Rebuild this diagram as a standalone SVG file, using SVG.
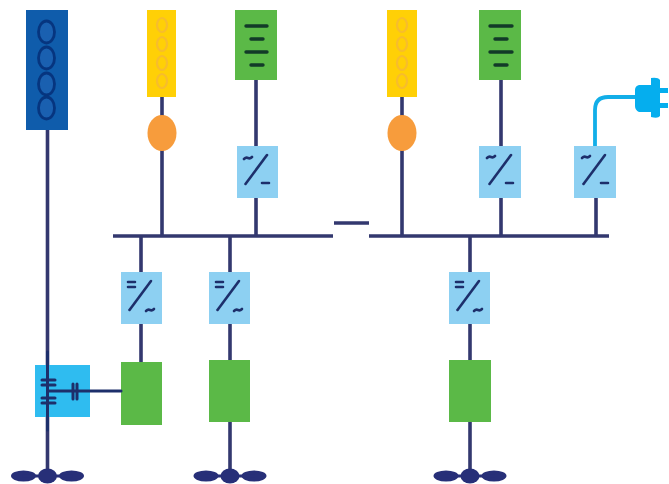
<svg xmlns="http://www.w3.org/2000/svg" width="669" height="484" viewBox="0 0 669 484">
<style>
.w{fill:none;stroke:#33386f;stroke-width:3.6}
.t{fill:none;stroke:#1d2f6b;stroke-width:2.6;stroke-linecap:round}
.conv{fill:#8dd0f2}
.gr{fill:#5bb947}
.bar{stroke:#123a28;stroke-width:3.4;stroke-linecap:round}
.ring{fill:none;stroke:#f7bd2c;stroke-width:2.2}
.dring{fill:#1a60b0;stroke:#06357f;stroke-width:2.8}
.blade{fill:#272f78}
</style>
<defs>
<g id="sw"><path class="t" d="M8.500 38L30 9"/></g>
<g id="fan"><ellipse cx="-24" cy="0" rx="12.500" ry="5.500" class="blade"/><ellipse cx="24" cy="0" rx="12.500" ry="5.500" class="blade"/><rect x="-25" y="-1.500" width="50" height="3" class="blade"/><ellipse cx="0" cy="0" rx="9.500" ry="7.500" class="blade"/></g>
</defs>
<g id="connectors">
<path class="w" d="M47.500 130V476M162 97V236M256 80V236M141 236V362M230 236V360M230 422V476M402 97V236M501 80V236M596 198V236M470 236V360M470 422V476M113 236H333M369 236H609M334 223H369"/>
<path fill="none" stroke="#12aee8" stroke-width="3.800" d="M595 146V110Q595 97 608 97H636"/>
</g>
<g id="battery-blue"><rect x="26" y="10" width="42" height="120" fill="#0f5cab"/>
<ellipse class="dring" cx="46.500" cy="32" rx="8" ry="11"/><ellipse class="dring" cx="46.500" cy="58" rx="8" ry="11"/><ellipse class="dring" cx="46.500" cy="84" rx="8" ry="11"/><ellipse class="dring" cx="46.500" cy="108" rx="8" ry="11"/></g>
<g id="fuel-1"><rect x="147" y="10" width="29" height="87" fill="#ffd006"/>
<ellipse class="ring" cx="162" cy="25" rx="5" ry="7"/><ellipse class="ring" cx="162" cy="44" rx="5" ry="7"/><ellipse class="ring" cx="162" cy="63" rx="5" ry="7"/><ellipse class="ring" cx="162" cy="81" rx="5" ry="7"/></g>
<g id="engine-1"><ellipse cx="162" cy="133" rx="14.500" ry="18" fill="#f79c3c"/></g>
<g id="pv-1"><rect x="235" y="10" width="42" height="70" class="gr"/>
<path class="bar" d="M246 26H267M251 39H263M246 52H267M251 65H263"/></g>
<g id="conv-1"><rect x="237" y="146" width="41" height="52" class="conv"/>
<use href="#sw" x="237" y="146"/><path class="t" d="M244 159q2-2 4-1t4-1M262 183H269"/></g>
<g id="conv-2"><rect x="121" y="272" width="41" height="52" class="conv"/>
<use href="#sw" x="121" y="272"/><path class="t" d="M128 282H135M128 287H135M146 311q2-2 4-1t4-1"/></g>
<g id="conv-3"><rect x="209" y="272" width="41" height="52" class="conv"/>
<use href="#sw" x="209" y="272"/><path class="t" d="M216 282H223M216 287H223M234 311q2-2 4-1t4-1"/></g>
<g id="conv-4"><rect x="449" y="272" width="41" height="52" class="conv"/>
<use href="#sw" x="449" y="272"/><path class="t" d="M456 282H463M456 287H463M474 311q2-2 4-1t4-1"/></g>
<g id="fuel-2"><rect x="387" y="10" width="30" height="87" fill="#ffd006"/>
<ellipse class="ring" cx="402" cy="25" rx="5" ry="7"/><ellipse class="ring" cx="402" cy="44" rx="5" ry="7"/><ellipse class="ring" cx="402" cy="63" rx="5" ry="7"/><ellipse class="ring" cx="402" cy="81" rx="5" ry="7"/></g>
<g id="engine-2"><ellipse cx="402" cy="133" rx="14.500" ry="18" fill="#f79c3c"/></g>
<g id="pv-2"><rect x="479" y="10" width="42" height="70" class="gr"/>
<path class="bar" d="M490 26H512M495 39H507M490 52H512M495 65H507"/></g>
<g id="conv-5"><rect x="479" y="146" width="42" height="52" class="conv"/>
<use href="#sw" x="481" y="146"/><path class="t" d="M487 158q2-2 4-1t4-1M506 183H513"/></g>
<g id="conv-6"><rect x="574" y="146" width="42" height="52" class="conv"/>
<use href="#sw" x="575" y="146"/><path class="t" d="M582 158q2-2 4-1t4-1M601 183H608"/></g>
<g id="plug"><path fill="#05aeee" d="M639 85H651V78Q658 77 660 80V88H668V93H660V103H668V108H660V116Q658 119 651 117V112H639Q635 110 635 106V90Q635 86 639 85Z"/></g>
<g id="storage-1"><rect x="121" y="362" width="41" height="63" class="gr"/></g>
<g id="storage-2"><rect x="209" y="360" width="41" height="62" class="gr"/></g>
<g id="storage-3"><rect x="449" y="360" width="42" height="62" class="gr"/></g>
<g id="switchgear"><rect x="35" y="365" width="55" height="52" fill="#2fbcf0"/>
<path fill="none" stroke="#1d2f6b" stroke-width="3" d="M47.500 352V430M47.500 391H121M42 380H55M42 385H55M42 398H55M42 403H55M73 384V399M77 384V399" stroke-linecap="round"/></g>
<g id="fan-1"><use href="#fan" x="47.500" y="476"/></g>
<g id="fan-2"><use href="#fan" x="230" y="476"/></g>
<g id="fan-3"><use href="#fan" x="470" y="476"/></g>
</svg>
